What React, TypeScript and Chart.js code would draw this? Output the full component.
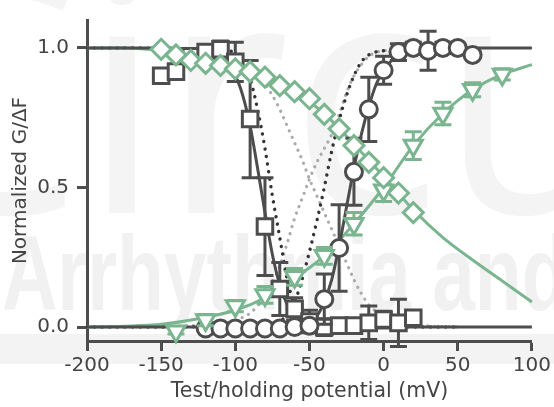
import React, { useEffect, useRef } from "react";
import { Chart, registerables } from "chart.js";

Chart.register(...registerables);

// ---------- data ----------
const xTickValues = [-200, -150, -100, -50, 0, 50, 100];
const yTickValues = [0, 0.5, 1.0];

// open squares (dark)
const squareX = [-150, -140, -130, -120, -110, -100, -90, -80, -70, -60, -50, -40, -30, -20, -10, 0, 10, 20];
const squareY = [0.9, 0.915, 0.97, 0.985, 0.995, 0.95, 0.745, 0.36, 0.136, 0.065, 0.02, 0.0, 0.005, 0.005, 0.015, 0.027, 0.015, 0.033];
const squareErr = [0.02, 0.02, 0.02, 0.02, 0.03, 0.07, 0.21, 0.175, 0.095, 0.04, 0.04, 0.03, 0.02, 0.02, 0.06, 0.03, 0.085, 0.02];

// open circles (dark)
const circleX = [-120, -110, -100, -90, -80, -70, -60, -50, -40, -30, -20, -10, 0, 10, 20, 30, 40, 50, 60];
const circleY = [-0.005, -0.005, -0.005, -0.005, -0.005, -0.005, 0.0, 0.005, 0.1, 0.283, 0.556, 0.78, 0.92, 0.985, 1.0, 0.99, 1.0, 1.0, 0.975];
const circleErr = [0.01, 0.01, 0.01, 0.01, 0.01, 0.01, 0.01, 0.02, 0.09, 0.155, 0.12, 0.115, 0.05, 0.03, 0.02, 0.07, 0.02, 0.01, 0.01];

// open diamonds (green)
const diamondX = [-150, -140, -130, -120, -110, -100, -90, -80, -70, -60, -50, -40, -30, -20, -10, 0, 10, 20];
const diamondY = [0.995, 0.975, 0.955, 0.945, 0.937, 0.925, 0.915, 0.895, 0.865, 0.843, 0.818, 0.762, 0.71, 0.65, 0.59, 0.535, 0.48, 0.41];

// open down-triangles (green)
const triangleX = [-140, -120, -100, -80, -60, -40, -20, 0, 20, 40, 60, 80];
const triangleY = [-0.015, 0.025, 0.075, 0.115, 0.18, 0.255, 0.37, 0.49, 0.65, 0.765, 0.85, 0.905];
const triangleErr = [0.01, 0.02, 0.02, 0.03, 0.03, 0.03, 0.04, 0.04, 0.05, 0.04, 0.025, 0.02];

// solid fit curves
const squareFitX = [-200, -150, -125, -110, -100, -95, -90, -85, -80, -75, -70, -65, -60, -50, -40, 0, 50, 100];
const squareFitY = [1.0, 1.0, 0.99, 0.96, 0.9, 0.83, 0.72, 0.57, 0.41, 0.26, 0.15, 0.08, 0.04, 0.01, 0.0, 0.0, 0.0, 0.0];
const circleFitX = [-200, -100, -70, -55, -45, -40, -35, -30, -25, -20, -15, -10, -5, 0, 10, 20, 40, 100];
const circleFitY = [0.0, 0.0, 0.0, 0.01, 0.04, 0.09, 0.17, 0.29, 0.43, 0.57, 0.69, 0.79, 0.87, 0.92, 0.975, 0.995, 1.0, 1.0];
const diamondFitX = [-200, -175, -150, -125, -100, -80, -60, -40, -20, 0, 20, 40, 60, 80, 100];
const diamondFitY = [1.0, 1.0, 0.99, 0.965, 0.935, 0.9, 0.845, 0.765, 0.655, 0.54, 0.42, 0.32, 0.24, 0.165, 0.09];
const triangleFitX = [-200, -175, -150, -125, -100, -80, -60, -40, -20, 0, 20, 40, 60, 80, 100];
const triangleFitY = [0.0, 0.003, 0.01, 0.03, 0.06, 0.105, 0.175, 0.255, 0.37, 0.5, 0.65, 0.765, 0.85, 0.905, 0.94];

// dotted model curves (dark)
const darkInactX = [-200, -110, -100, -95, -90, -85, -80, -75, -70, -65, -60, -55, -50, -40, 50];
const darkInactY = [1.0, 0.995, 0.98, 0.95, 0.89, 0.78, 0.64, 0.47, 0.32, 0.17, 0.08, 0.035, 0.015, 0.005, 0.0];
const darkActX = [-200, -80, -70, -65, -60, -55, -50, -45, -40, -35, -30, -25, -20, -15, -10, 0, 50];
const darkActY = [0.0, 0.003, 0.02, 0.045, 0.09, 0.17, 0.27, 0.38, 0.5, 0.63, 0.74, 0.83, 0.9, 0.95, 0.975, 0.99, 1.0];

// dotted model curves (light gray)
const grayInactX = [-200, -120, -100, -90, -80, -75, -70, -65, -60, -55, -50, -45, -40, -35, -30, -25, -20, -15, -10, 0, 20, 50];
const grayInactY = [1.0, 0.99, 0.96, 0.92, 0.87, 0.83, 0.78, 0.72, 0.66, 0.6, 0.53, 0.47, 0.41, 0.35, 0.29, 0.23, 0.17, 0.12, 0.08, 0.04, 0.01, 0.0];
const grayActX = [-200, -110, -100, -90, -80, -75, -70, -65, -60, -55, -50, -45, -40, -35, -30, -25, -20, -15, -10, 0, 50];
const grayActY = [0.0, 0.01, 0.025, 0.05, 0.11, 0.16, 0.22, 0.3, 0.39, 0.46, 0.53, 0.59, 0.64, 0.69, 0.76, 0.84, 0.9, 0.94, 0.97, 0.99, 1.0];

// ---------- styling ----------
const DARK = "#4d4d4d";
const GREEN = "#7ab590";
const GRAY_DOT = "#ababab";
const FONT = "'DejaVu Sans', 'Open Sans', sans-serif";

const pts = (xs: number[], ys: number[]) => xs.map((x, i) => ({ x, y: ys[i] }));

const errorBarPlugin = {
  id: "errorBars",
  beforeDatasetDraw(chart: any, args: any) {
    const ds = chart.data.datasets[args.index];
    if (!ds.errors) return;
    const yScale = chart.scales.y;
    const ctx = chart.ctx;
    ctx.save();
    ctx.strokeStyle = ds.borderColor;
    ctx.lineWidth = 3;
    args.meta.data.forEach((el: any, i: number) => {
      const e = ds.errors[i];
      if (!e) return;
      const v = ds.data[i].y;
      const x = el.x;
      const top = yScale.getPixelForValue(v + e);
      const bot = yScale.getPixelForValue(v - e);
      ctx.beginPath();
      ctx.moveTo(x, top);
      ctx.lineTo(x, bot);
      ctx.moveTo(x - 8.5, top);
      ctx.lineTo(x + 8.5, top);
      ctx.moveTo(x - 8.5, bot);
      ctx.lineTo(x + 8.5, bot);
      ctx.stroke();
    });
    ctx.restore();
  },
};

const watermarkPlugin = {
  id: "watermark",
  beforeDraw(chart: any) {
    const ctx = chart.ctx;
    ctx.save();
    ctx.fillStyle = "#f3f3f3";
    ctx.fillRect(0, 334, chart.width, 30);
    ctx.textBaseline = "alphabetic";
    ctx.textAlign = "left";
    ctx.save();
    ctx.fillStyle = "#f4f4f4";
    ctx.translate(-115, 213);
    ctx.scale(0.95, 1);
    ctx.font = "400 330px 'Open Sans'";
    ctx.fillText("Circulation", 0, 0);
    ctx.restore();
    ctx.save();
    ctx.translate(2, 310);
    ctx.scale(0.73, 1);
    ctx.fillStyle = "#f1f1f1";
    ctx.font = "bold 105px 'Liberation Sans'";
    ctx.fillText("Arrhythmia and Electrophysiology", 0, 0);
    ctx.restore();
    ctx.restore();
  },
};

function curve(label: string, xs: number[], ys: number[], color: string, width: number, order: number, dash?: number[]) {
  return {
    label,
    data: pts(xs, ys),
    showLine: true,
    borderColor: color,
    borderWidth: width,
    borderDash: dash || [],
    borderCapStyle: dash ? "round" : "butt",
    pointRadius: 0,
    cubicInterpolationMode: "monotone",
    fill: false,
    order,
    clip: false,
  };
}

function markers(label: string, xs: number[], ys: number[], color: string, style: string, radius: number, order: number, errors?: number[], rotation = 0) {
  return {
    label,
    data: pts(xs, ys),
    showLine: false,
    borderColor: color,
    backgroundColor: "#ffffff",
    pointStyle: style,
    pointRadius: radius,
    pointBorderWidth: 3,
    pointBorderColor: color,
    pointBackgroundColor: "#ffffff",
    pointRotation: rotation,
    errors,
    order,
    clip: false,
  };
}

export default function App() {
  const ref = useRef<HTMLCanvasElement | null>(null);

  useEffect(() => {
    document.body.style.margin = "0";
    const canvas = ref.current;
    if (!canvas) return;

    const chart = new Chart(canvas, {
      type: "scatter",
      data: {
        datasets: [
          curve("gray inactivation model", grayInactX, grayInactY, GRAY_DOT, 3.2, 12, [0.1, 7]),
          curve("gray activation model", grayActX, grayActY, GRAY_DOT, 3.2, 11, [0.1, 7]),
          curve("dark inactivation model", darkInactX, darkInactY, "#333333", 3.4, 10, [0.1, 7.5]),
          curve("dark activation model", darkActX, darkActY, "#333333", 3.4, 9, [0.1, 7.5]),
          curve("triangle fit", triangleFitX, triangleFitY, GREEN, 3, 8),
          curve("diamond fit", diamondFitX, diamondFitY, GREEN, 3, 7),
          curve("square fit", squareFitX, squareFitY, DARK, 3, 6),
          curve("circle fit", circleFitX, circleFitY, DARK, 3, 5),
          markers("squares", squareX, squareY, DARK, "rect", 11, 4, squareErr),
          markers("circles", circleX, circleY, DARK, "circle", 8.5, 3, circleErr),
          markers("triangles", triangleX, triangleY, GREEN, "triangle", 10.5, 2, triangleErr, 180),
          markers("diamonds", diamondX, diamondY, GREEN, "rectRot", 10, 1),
        ] as any,
      },
      options: {
        animation: false,
        responsive: false,
        maintainAspectRatio: false,
        layout: { padding: { left: 0, right: 21, top: 12, bottom: 0 } },
        plugins: { legend: { display: false }, tooltip: { enabled: false } },
        scales: {
          x: {
            type: "linear",
            min: -200,
            max: 100,
            afterFit: (s: any) => {
              s.height = 66;
            },
            afterBuildTicks: (s: any) => {
              s.ticks = xTickValues.map((v) => ({ value: v }));
            },
            ticks: {
              color: "#444",
              font: { family: FONT, size: 20 },
              padding: 3,
              maxRotation: 0,
              autoSkip: false,
              callback: (v: any) => String(v),
            },
            grid: {
              display: true,
              drawOnChartArea: false,
              drawTicks: true,
              tickLength: 10,
              tickWidth: 3,
              tickColor: DARK,
            },
            border: { display: true, color: DARK, width: 3 },
            title: {
              display: true,
              text: "Test/holding potential (mV)",
              color: "#444",
              font: { family: FONT, size: 20.5 },
              padding: { top: 0, bottom: 3 },
            },
          },
          y: {
            type: "linear",
            min: -0.05,
            max: 1.1,
            afterFit: (s: any) => {
              s.width = 87;
            },
            afterBuildTicks: (s: any) => {
              s.ticks = yTickValues.map((v) => ({ value: v }));
            },
            ticks: {
              color: "#444",
              font: { family: FONT, size: 20 },
              padding: 8,
              autoSkip: false,
              callback: (v: any) => Number(v).toFixed(1),
            },
            grid: {
              display: true,
              drawOnChartArea: false,
              drawTicks: true,
              tickLength: 10,
              tickWidth: 3,
              tickColor: DARK,
            },
            border: { display: true, color: DARK, width: 3 },
            title: {
              display: true,
              text: "Normalized G/ΔF",
              color: "#444",
              font: { family: FONT, size: 20 },
              padding: { top: 9, bottom: 0 },
            },
          },
        },
      } as any,
      plugins: [watermarkPlugin, errorBarPlugin],
    });

    return () => chart.destroy();
  }, []);

  return (
    <canvas
      ref={ref}
      width={554}
      height={407}
      style={{ display: "block", width: 554, height: 407 }}
    />
  );
}
